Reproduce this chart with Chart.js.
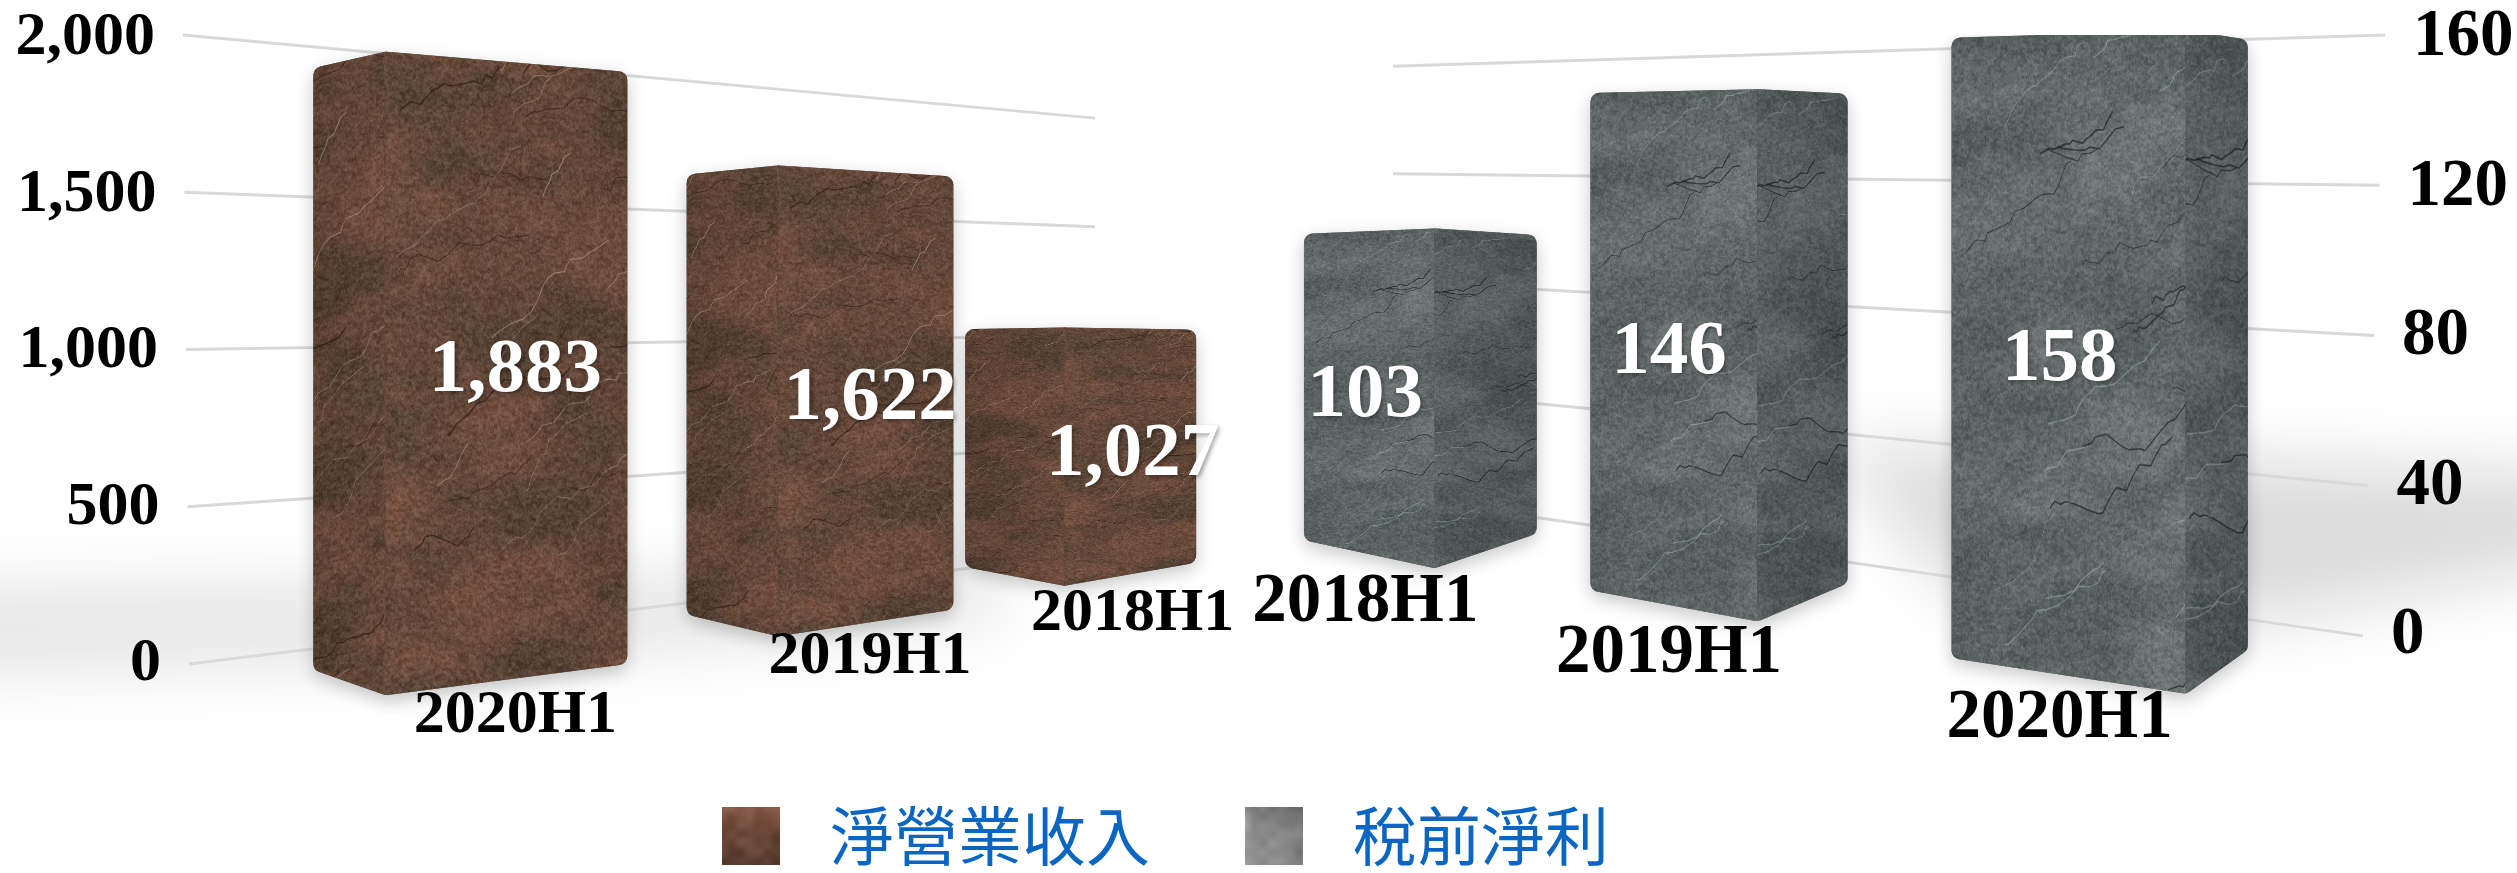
<!DOCTYPE html>
<html lang="zh-Hant"><head><meta charset="utf-8">
<style>html,body{margin:0;padding:0;background:#fff}canvas{display:block}</style>
<script src="https://cdn.jsdelivr.net/npm/chart.js@4"></script>
</head><body><canvas id="c" width="2517" height="873"></canvas>
<script>
// ---- data ----
const categories = ['2020H1','2019H1','2018H1','2018H1','2019H1','2020H1'];
const revenue = [1883,1622,1027,null,null,null];
const profit = [null,null,null,103,146,158];
const revenueTicks = [0,500,1000,1500,2000];
const profitTicks = [0,40,80,120,160];
const revenueName = '淨營業收入';
const profitName = '稅前淨利';

// ---- perspective layout (depth: 0 = near wall, 1 = far wall) ----
const depth = [-0.28,0.25,0.65,0.43,0.104,-0.417];
const slotNudge = [147,135,31,-103,-166,-142];
const barShift = [-45,-50,-52,55,50,40];
const barLift = [0,0,-6,-8,0,0];
const labelDrop = [21,21,28,35,33,25];
const PERSP = {
  y:  {vy:304,k:0.691,fracA:0.29,fracB:0.215,farX:1095,nearA:189,nearB:183,labelSize:62,tickGap:-28},
  y1: {vy:145,k:0.717,fracA:0.68,fracB:-0.27,farX:1393,nearA:2363,nearB:2385,labelSize:69,tickGap:28}
};
const SERIF = '"Liberation Serif","Times New Roman",serif';

// ---- stone textures ----
function mulberry(a){return function(){a|=0;a=a+0x6D2B79F5|0;let t=Math.imul(a^a>>>15,1|a);t=t+Math.imul(t^t>>>7,61|t)^t;return((t^t>>>14)>>>0)/4294967296;};}
function makeStone(pal,seed,w,h,detail){
  const cv=document.createElement('canvas');cv.width=w;cv.height=h;const c=cv.getContext('2d');
  const rnd=mulberry(seed),N=256,lat=new Float32Array(N*N);for(let i=0;i<N*N;i++)lat[i]=rnd();
  const vn=(x,y)=>{const xi=Math.floor(x),yi=Math.floor(y);let fx=x-xi,fy=y-yi;fx=fx*fx*(3-2*fx);fy=fy*fy*(3-2*fy);
    const g=(a,b)=>lat[((a&255)+(b&255)*N)];
    return (g(xi,yi)*(1-fx)+g(xi+1,yi)*fx)*(1-fy)+(g(xi,yi+1)*(1-fx)+g(xi+1,yi+1)*fx)*fy;};
  const img=c.createImageData(w,h),d=img.data;
  for(let y=0;y<h;y++)for(let x=0;x<w;x++){
    const sx=x+y*0.25;
    const a=vn(sx/170,y/70)*.55+vn(sx/70,y/28)*.3+vn(sx/26,y/11)*.15;
    const m=Math.min(1,Math.max(0,(a-.3)*2.5));
    const g=detail?(vn(x/2.2,y/2.2)-.5)*pal.grain+(vn(x/7,y/4)-.5)*pal.grain*.8:(vn(x/9,y/9)-.5)*pal.grain;
    const i=(x+y*w)*4;
    for(let k=0;k<3;k++)d[i+k]=pal.a[k]*(1-m)+pal.b[k]*m+g;
    d[i+3]=255;
  }
  c.putImageData(img,0,0);
  if(detail){
    const walk=(x,y,len,ang,jit,col,lw)=>{c.beginPath();c.moveTo(x,y);let l=0,an=ang;while(l<len){const st=6+rnd()*18;an=ang+(rnd()-.5)*jit;x+=Math.cos(an)*st;y+=Math.sin(an)*st;c.lineTo(x,y);l+=st;}c.strokeStyle=col;c.lineWidth=lw;c.lineJoin='round';c.stroke();};
    for(let i=0;i<18;i++){const x=rnd()*w,y=rnd()*h;walk(x,y,90+rnd()*220,-0.45+rnd()*.2,1.5,pal.crack,1+rnd()*1.6);}
    for(let i=0;i<16;i++){const x=rnd()*w,y=rnd()*h;walk(x,y,80+rnd()*220,-0.8+rnd()*.3,1.2,pal.vein,.8+rnd()*1.2);}
  }
  return cv;
}
const ctx0=document.getElementById('c').getContext('2d');
const brownPal={a:[88,68,54],b:[116,80,64],grain:30,crack:'rgba(38,24,18,.6)',vein:'rgba(215,190,165,.5)'};
const grayPal={a:[88,96,96],b:[110,116,116],grain:30,crack:'rgba(28,34,38,.7)',vein:'rgba(190,205,205,.4)'};
const tex={y:makeStone(brownPal,11,620,900,true),y1:makeStone(grayPal,29,620,900,true)};
const texPat={y:ctx0.createPattern(tex.y,'repeat'),y1:ctx0.createPattern(tex.y1,'repeat')};
const swatches=[
  ctx0.createPattern(makeStone({a:[88,60,46],b:[136,90,74],grain:22},5,58,58,false),'no-repeat'),
  ctx0.createPattern(makeStone({a:[112,112,112],b:[152,152,152],grain:26},6,58,58,false),'no-repeat')
];

// ---- geometry derived from the scales ----
function barGeom(el,val,axis,i){
  const P=PERSP[axis],d=depth[i],p=1+d*(P.k-1),lift=barLift[i];
  const warp=(y,f)=>P.vy+(y-P.vy)*p*f+lift;
  const {x,y,base,width}=el.getProps(['x','y','base','width'],true);
  const w=width*p,cx=x+slotNudge[i]+barShift[i],x0=cx-w/2,x1=cx+w/2,xa=x0+w*(P.fracA+P.fracB*d);
  const topA=warp(y,1),botA=warp(base,1),dropTop=Math.abs(topA-P.vy);
  return {x0,x1,xa,labelX:x+slotNudge[i],topA,botA,
    top0:topA+dropTop*.065,bot0:warp(base,.935),top1:topA+dropTop*.08,bot1:warp(base,.92)};
}
function roundedPoly(c,pts,r){c.beginPath();const n=pts.length;
  const m=(a,b)=>[(a[0]+b[0])/2,(a[1]+b[1])/2],s=m(pts[n-1],pts[0]);c.moveTo(s[0],s[1]);
  for(let i=0;i<n;i++){const a=pts[i],b=pts[(i+1)%n];c.arcTo(a[0],a[1],b[0],b[1],r);}c.closePath();}

class PrismBar extends Chart.BarController{
  draw(){
    const c=this.chart.ctx,meta=this.getMeta(),axis=meta.vScale.id,pat=texPat[axis],isLeft=axis==='y';
    meta.data.forEach((el,i)=>{
      const v=meta._parsed[i]&&meta._parsed[i].y;if(v==null||isNaN(v))return;
      const g=barGeom(el,v,axis,i);
      const sil=[[g.x0,g.top0],[g.xa,g.topA],[g.x1,g.top1],[g.x1,g.bot1],[g.xa,g.botA],[g.x0,g.bot0]];
      c.save();
      c.shadowColor='rgba(0,0,0,.22)';c.shadowBlur=18;c.shadowOffsetY=6;
      roundedPoly(c,sil,9);c.fillStyle='#666';c.fill();
      c.restore();
      c.save();roundedPoly(c,sil,9);c.clip();
      const H=g.botA-g.topA;
      const face=(xa,xb,ta,tb,ba,bb,ox)=>{
        const W=xb-xa,tw=(xb-xa)/(g.x1-g.x0)*620;
        const mtx=new DOMMatrix([W/tw,(tb-ta)/tw,0,H/900,xa-ox*W/tw,ta]);
        pat.setTransform(mtx);c.fillStyle=pat;
        c.beginPath();c.moveTo(xa-1,ta-2);c.lineTo(xb+1,tb-2);c.lineTo(xb+1,bb+2);c.lineTo(xa-1,ba+2);c.closePath();c.fill();
      };
      face(g.x0,g.xa,g.top0,g.topA,g.bot0,g.botA,isLeft?300:0);
      face(g.xa,g.x1,g.topA,g.top1,g.botA,g.bot1,isLeft?0:200);
      const shade=(xa,xb,s0,s1)=>{const gr=c.createLinearGradient(xa,0,xb,0);gr.addColorStop(0,`rgba(0,0,0,${s0})`);gr.addColorStop(1,`rgba(0,0,0,${s1})`);c.fillStyle=gr;c.fillRect(xa-1,0,xb-xa+2,873);};
      if(isLeft){shade(g.x0,g.xa,.14,.02);shade(g.xa,g.x1,0,.06);}
      else{shade(g.x0,g.xa,.03,.0);shade(g.xa,g.x1,.1,.2);}
      c.restore();
    });
  }
}
PrismBar.id='prismBar';
PrismBar.defaults={};
Chart.register(PrismBar);

// ---- tick labels follow the near edge of the perspective wall ----
function placeTicks(scale,ticks){
  const P=PERSP[scale.id],mx=Math.max(...ticks);
  const base=scale._computeLabelItems;
  if(scale._placed)return;scale._placed=true;
  scale._computeLabelItems=function(area){
    const items=base.call(this,area);
    items.forEach(it=>{
      const v=Number(String(it.label).replace(/,/g,''));
      it.options.translation[0]=P.nearA+(P.nearB-P.nearA)*v/mx+P.tickGap;
      it.options.translation[1]+=3*v/mx;
    });
    return items;
  };
}

// ---- plugins: perspective grid, floor shadow, labels, legend placement ----
const wallPlugin={id:'wall',
  beforeDatasetsDraw(chart){
    const c=chart.ctx;
    c.save();c.filter='blur(34px)';c.fillStyle='rgba(0,0,0,.11)';
    c.beginPath();c.moveTo(-80,590);c.lineTo(500,585);c.lineTo(1000,560);c.lineTo(1000,620);c.lineTo(500,660);c.lineTo(-80,670);c.closePath();c.fill();
    c.fillStyle='rgba(0,0,0,.14)';
    c.beginPath();c.moveTo(1830,445);c.lineTo(2600,475);c.lineTo(2600,560);c.lineTo(2240,625);c.lineTo(1950,590);c.closePath();c.fill();
    c.restore();
    c.save();c.strokeStyle='#d9d9d9';c.lineWidth=3;
    [['y',revenueTicks],['y1',profitTicks]].forEach(([id,ticks])=>{
      const sc=chart.scales[id],P=PERSP[id],mx=Math.max(...ticks);
      ticks.forEach(v=>{
        const y=sc.getPixelForValue(v),xn=P.nearA+(P.nearB-P.nearA)*v/mx;
        c.beginPath();c.moveTo(xn,y);c.lineTo(P.farX,P.vy+(y-P.vy)*P.k);c.stroke();
      });
    });
    c.restore();
  },
  afterDatasetsDraw(chart){
    const c=chart.ctx;c.save();c.textAlign='center';c.textBaseline='middle';
    chart.data.datasets.forEach((ds,di)=>{
      const meta=chart.getDatasetMeta(di),axis=meta.vScale.id,P=PERSP[axis];
      meta.data.forEach((el,i)=>{
        const v=ds.data[i];if(v==null)return;
        const g=barGeom(el,v,axis,i);
        c.shadowColor='transparent';
        c.fillStyle='#000';c.font=`bold ${P.labelSize}px ${SERIF}`;
        c.fillText(categories[i],g.labelX,g.botA+labelDrop[i]);
        c.fillStyle='#fff';c.font=`bold 77px ${SERIF}`;
        c.shadowColor='rgba(0,0,0,.35)';c.shadowBlur=4;c.shadowOffsetX=2;c.shadowOffsetY=2;
        c.fillText(v.toLocaleString('en-US'),g.labelX,(g.topA+g.botA)/2-2);
        c.shadowOffsetX=0;c.shadowOffsetY=0;c.shadowBlur=0;
      });
    });
    c.restore();
  },
  afterUpdate(chart){
    const lg=chart.legend;if(!lg||!lg.legendHitBoxes.length)return;
    const h=lg.legendHitBoxes[0],dx=722-h.left,dy=807-(h.top+(h.height-58)/2);
    lg.left+=dx;lg.right+=dx;lg.top+=dy;lg.bottom+=dy;
    lg.legendHitBoxes.forEach((b,i)=>{b.left+=dx;b.top+=dy;
      swatches[i].setTransform(new DOMMatrix([1,0,0,1,b.left,b.top+(b.height-58)/2]));});
  }
};

new Chart(document.getElementById('c'),{
  type:'prismBar',
  data:{labels:categories,datasets:[
    {label:revenueName,data:revenue,yAxisID:'y',backgroundColor:swatches[0],borderWidth:0,barThickness:289,grouped:false},
    {label:profitName,data:profit,yAxisID:'y1',backgroundColor:swatches[1],borderWidth:0,barThickness:265,grouped:false}
  ]},
  plugins:[wallPlugin],
  options:{
    responsive:false,animation:false,devicePixelRatio:1,locale:'en-US',
    layout:{padding:{top:35,left:0,right:0,bottom:-96}},
    plugins:{
      title:{display:false},tooltip:{enabled:false},
      legend:{position:'bottom',labels:{boxWidth:76,boxHeight:58,padding:95,color:'#0a66c2',
        font:{family:'"Noto Sans CJK TC"',size:64}}}
    },
    scales:{
      x:{display:false},
      y:{position:'left',min:-432,max:2000,grid:{display:false},border:{display:false},
        afterBuildTicks:s=>{s.ticks=revenueTicks.map(v=>({value:v}));placeTicks(s,revenueTicks);},
        afterFit:s=>{s.width=185;},
        ticks:{autoSkip:false,color:'#000',padding:0,font:{family:SERIF,weight:'bold',size:62,lineHeight:1}}},
      y1:{position:'right',min:-43.7,max:160,grid:{display:false},border:{display:false},
        afterBuildTicks:s=>{s.ticks=profitTicks.map(v=>({value:v}));placeTicks(s,profitTicks);},
        afterFit:s=>{s.width=132;},
        ticks:{autoSkip:false,color:'#000',padding:0,font:{family:SERIF,weight:'bold',size:67,lineHeight:1}}}
    }
  }
});
</script></body></html>
